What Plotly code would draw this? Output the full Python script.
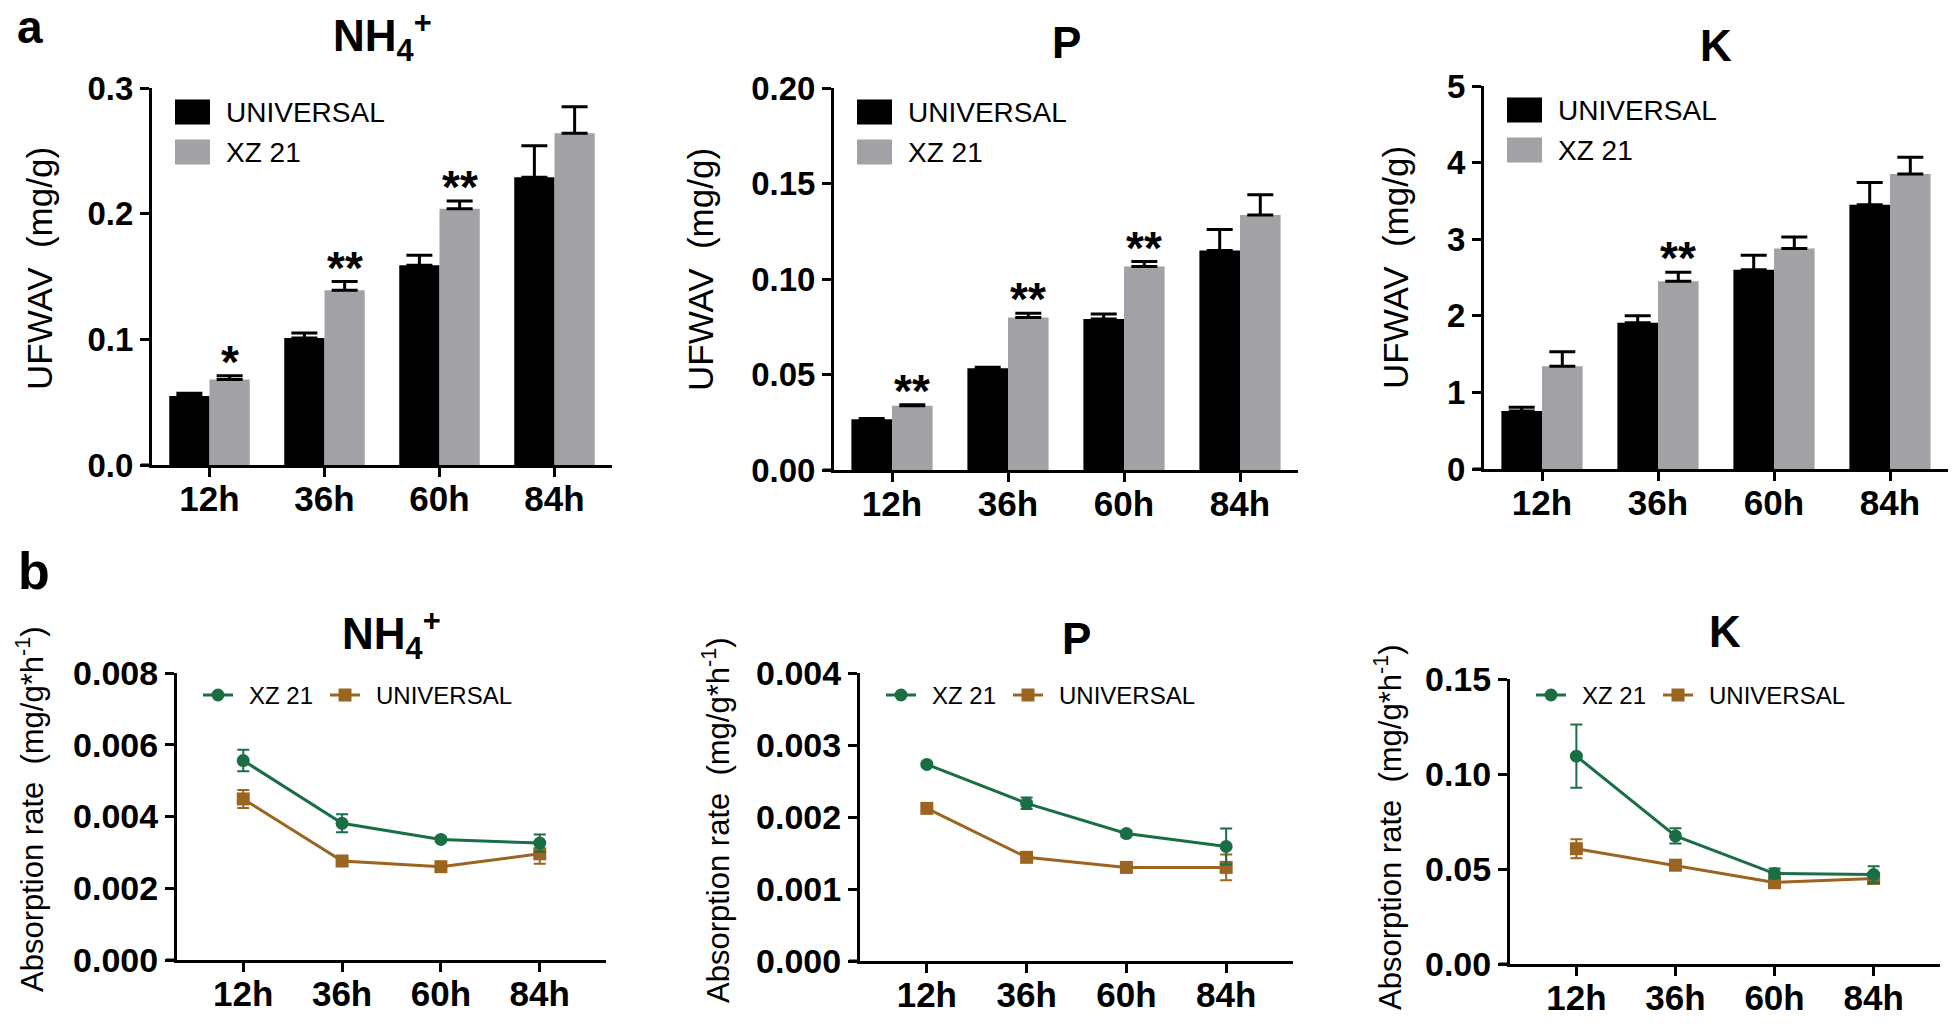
import plotly.graph_objects as go

W, H = 1960, 1024

# ---------------- data ----------------
times = ["12h", "36h", "60h", "84h"]

# (a) UFWAV bars
nh4_universal = [0.055, 0.101, 0.159, 0.229]
nh4_universal_err = [0.002, 0.004, 0.008, 0.025]
nh4_xz21 = [0.068, 0.139, 0.204, 0.264]
nh4_xz21_err = [0.003, 0.007, 0.006, 0.021]
nh4_sig = ["*", "**", "**", ""]

p_universal = [0.0266, 0.0533, 0.0791, 0.1149]
p_universal_err = [0.0004, 0.0005, 0.0026, 0.011]
p_xz21 = [0.0337, 0.0798, 0.1065, 0.1335]
p_xz21_err = [0.0005, 0.0023, 0.0026, 0.0106]
p_sig = ["**", "**", "**", ""]

k_universal = [0.757, 1.91, 2.60, 3.45]
k_universal_err = [0.05, 0.09, 0.19, 0.29]
k_xz21 = [1.34, 2.45, 2.88, 3.85]
k_xz21_err = [0.19, 0.12, 0.15, 0.22]
k_sig = ["", "**", "", ""]

# (b) absorption rate lines
nh4_rate_xz21 = [0.00556, 0.00381, 0.00336, 0.00326]
nh4_rate_xz21_err = [0.0003, 0.00025, 0.00006, 0.00024]
nh4_rate_universal = [0.00449, 0.00276, 0.00260, 0.00296]
nh4_rate_universal_err = [0.00025, 0.00005, 0.00005, 0.00028]

p_rate_xz21 = [0.00273, 0.00219, 0.00177, 0.00159]
p_rate_xz21_err = [0.00003, 0.00008, 0.00004, 0.00025]
p_rate_universal = [0.00212, 0.00144, 0.00130, 0.00130]
p_rate_universal_err = [0.00003, 0.00003, 0.00003, 0.00018]

k_rate_xz21 = [0.1094, 0.0674, 0.0476, 0.0471]
k_rate_xz21_err = [0.0166, 0.004, 0.0026, 0.0044]
k_rate_universal = [0.0607, 0.0520, 0.0429, 0.0450]
k_rate_universal_err = [0.005, 0.002, 0.003, 0.002]

# ---------------- style ----------------
BLACK = "#000000"
GRAY = "#A2A2A6"
GREEN = "#1A6E45"
BROWN = "#9B6420"
SANS = "Liberation Sans, Arial, Helvetica, sans-serif"

# panel boxes in pixels: left, right, top, bottom
panels = [
    dict(box=(152, 612, 88, 465), yr=[0, 0.3], dtick=0.1, fmt=".1f", title="NH<sub>4</sub><sup>+</sup>", ty=36),
    dict(box=(834, 1298, 88, 470), yr=[0, 0.2], dtick=0.05, fmt=".2f", title="P", ty=42),
    dict(box=(1484, 1948, 86, 469), yr=[0, 5], dtick=1, fmt="d", title="K", ty=45),
    dict(box=(177, 606, 673, 960), yr=[0, 0.008], dtick=0.002, fmt=".3f", title="NH<sub>4</sub><sup>+</sup>", ty=634),
    dict(box=(860, 1293, 673, 961), yr=[0, 0.004], dtick=0.001, fmt=".3f", title="P", ty=638),
    dict(box=(1510, 1940, 679, 964), yr=[0, 0.15], dtick=0.05, fmt=".2f", title="K", ty=631),
]
ytitle_pos = [(39, 269), (700, 270), (1395, 268), (30, 809), (716, 820), (1388, 827)]


def px(x):
    return x / W


def py(y):
    return 1 - y / H


fig = go.Figure()

bar_sets = [
    (nh4_universal, nh4_universal_err, nh4_xz21, nh4_xz21_err, nh4_sig),
    (p_universal, p_universal_err, p_xz21, p_xz21_err, p_sig),
    (k_universal, k_universal_err, k_xz21, k_xz21_err, k_sig),
]
line_sets = [
    (nh4_rate_xz21, nh4_rate_xz21_err, nh4_rate_universal, nh4_rate_universal_err),
    (p_rate_xz21, p_rate_xz21_err, p_rate_universal, p_rate_universal_err),
    (k_rate_xz21, k_rate_xz21_err, k_rate_universal, k_rate_universal_err),
]

annotations = []
shapes = []

# bars
for i, (uv, ue, xv, xe, sig) in enumerate(bar_sets):
    xa = "x" if i == 0 else f"x{i + 1}"
    ya = "y" if i == 0 else f"y{i + 1}"
    fig.add_trace(go.Bar(
        x=times, y=uv, name="UNIVERSAL", marker=dict(color=BLACK, line=dict(width=0)),
        error_y=dict(type="data", array=ue, arrayminus=[0] * 4, symmetric=False,
                     color=BLACK, thickness=3, width=13),
        xaxis=xa, yaxis=ya, showlegend=False,
    ))
    fig.add_trace(go.Bar(
        x=times, y=xv, name="XZ 21", marker=dict(color=GRAY, line=dict(width=0)),
        error_y=dict(type="data", array=xe, arrayminus=[0] * 4, symmetric=False,
                     color=BLACK, thickness=3, width=13),
        xaxis=xa, yaxis=ya, showlegend=False,
    ))
    for j, s in enumerate(sig):
        if s:
            annotations.append(dict(
                x=j + 0.175, y=xv[j] + xe[j], xref=xa, yref=ya, text=s, showarrow=False,
                yanchor="bottom", yshift=-14, font=dict(family=SANS, size=46, color=BLACK, weight="bold"),
            ))

# lines
for i, (gv, ge, bv, be) in enumerate(line_sets):
    k = i + 4
    xa, ya = f"x{k}", f"y{k}"
    fig.add_trace(go.Scatter(
        x=times, y=bv, name="UNIVERSAL", mode="lines+markers",
        line=dict(color=BROWN, width=3), marker=dict(symbol="square", size=13, color=BROWN),
        error_y=dict(type="data", array=be, color=BROWN, thickness=2, width=6),
        xaxis=xa, yaxis=ya, showlegend=False,
    ))
    fig.add_trace(go.Scatter(
        x=times, y=gv, name="XZ 21", mode="lines+markers",
        line=dict(color=GREEN, width=3), marker=dict(symbol="circle", size=13, color=GREEN),
        error_y=dict(type="data", array=ge, color=GREEN, thickness=2, width=6),
        xaxis=xa, yaxis=ya, showlegend=False,
    ))

layout = dict(
    width=W, height=H, margin=dict(l=0, r=0, t=0, b=0, autoexpand=False),
    paper_bgcolor="white", plot_bgcolor="white", bargap=0.3, bargroupgap=0,
    barmode="group", showlegend=False,
)

for i, p in enumerate(panels):
    l, r, t, b = p["box"]
    sx = "" if i == 0 else str(i + 1)
    axis_common = dict(
        showline=True, linecolor=BLACK, linewidth=3, ticks="outside", ticklen=9,
        tickwidth=3, tickcolor=BLACK, showgrid=False, zeroline=False, automargin=False,
    )
    layout["xaxis" + sx] = dict(
        axis_common, domain=[px(l), px(r)], anchor="y" + sx, type="category",
        range=[-0.5, 3.5] if i < 3 else [-0.67, 3.67], ticklabelstandoff=-8,
        tickfont=dict(family=SANS, size=35, color=BLACK, weight="bold"),
    )
    layout["yaxis" + sx] = dict(
        axis_common, domain=[py(b), py(t)], anchor="x" + sx, range=p["yr"],
        dtick=p["dtick"], tick0=0, tickformat=p["fmt"],
        tickfont=dict(family=SANS, size=33 if i < 3 else 34, color=BLACK, weight="bold"),
    )
    # x axis line overhang to the left of the y axis (GraphPad style)
    shapes.append(dict(type="line", xref="paper", yref="paper", x0=px(l - 11), x1=px(l),
                       y0=py(b), y1=py(b), line=dict(color=BLACK, width=3)))
    # panel title
    annotations.append(dict(
        x=px((l + r) / 2), y=py(p["ty"]), xref="paper", yref="paper", text=p["title"],
        showarrow=False, xanchor="center", yanchor="middle",
        font=dict(family=SANS, size=44, color=BLACK, weight="bold"),
    ))
    # y axis title
    tx, tyy = ytitle_pos[i]
    ytxt = "UFWAV  (mg/g)" if i < 3 else "Absorption rate  (mg/g*h<sup>-1</sup>)"
    annotations.append(dict(
        x=px(tx), y=py(tyy), xref="paper", yref="paper", text=ytxt, textangle=-90,
        showarrow=False, xanchor="center", yanchor="middle",
        font=dict(family=SANS, size=35 if i < 3 else 31, color=BLACK),
    ))

    if i < 3:
        # bar legend
        for n, (lab, col) in enumerate([("UNIVERSAL", BLACK), ("XZ 21", GRAY)]):
            cy = t + 24 + n * 40
            shapes.append(dict(type="rect", xref="paper", yref="paper", x0=px(l + 23), x1=px(l + 58),
                               y0=py(cy + 12.5), y1=py(cy - 12.5), fillcolor=col, line=dict(width=0)))
            annotations.append(dict(
                x=px(l + 72), y=py(cy), xref="paper", yref="paper", text=lab, showarrow=False,
                xanchor="left", yanchor="middle", font=dict(family=SANS, size=28, color=BLACK),
            ))
    else:
        # line legend
        cy = 695
        for (lab, col, sym, x0) in [("XZ 21", GREEN, "circle", 26), ("UNIVERSAL", BROWN, "square", 153)]:
            shapes.append(dict(type="line", xref="paper", yref="paper", x0=px(l + x0), x1=px(l + x0 + 30),
                               y0=py(cy), y1=py(cy), line=dict(color=col, width=3)))
            cx = l + x0 + 15
            shapes.append(dict(type="circle" if sym == "circle" else "rect", xref="paper", yref="paper",
                               x0=px(cx - 6.5), x1=px(cx + 6.5), y0=py(cy + 6.5), y1=py(cy - 6.5),
                               fillcolor=col, line=dict(width=0)))
            annotations.append(dict(
                x=px(l + x0 + 44), y=py(cy), xref="paper", yref="paper", text=lab, showarrow=False,
                xanchor="left", yanchor="middle", font=dict(family=SANS, size=24, color=BLACK),
            ))

# panel letters
annotations.append(dict(x=px(15), y=py(27), xref="paper", yref="paper", text="a", showarrow=False,
                        xanchor="left", yanchor="middle",
                        font=dict(family=SANS, size=46, color=BLACK, weight="bold")))
annotations.append(dict(x=px(16), y=py(571), xref="paper", yref="paper", text="b", showarrow=False,
                        xanchor="left", yanchor="middle",
                        font=dict(family=SANS, size=52, color=BLACK, weight="bold")))

layout["annotations"] = annotations
layout["shapes"] = shapes
fig.update_layout(**layout)

# drop the default 8px page margin so the figure sits at the window origin
fig.write_html("out.html", config={"displayModeBar": False, "responsive": False},
               post_script="document.body.style.margin='0';")
